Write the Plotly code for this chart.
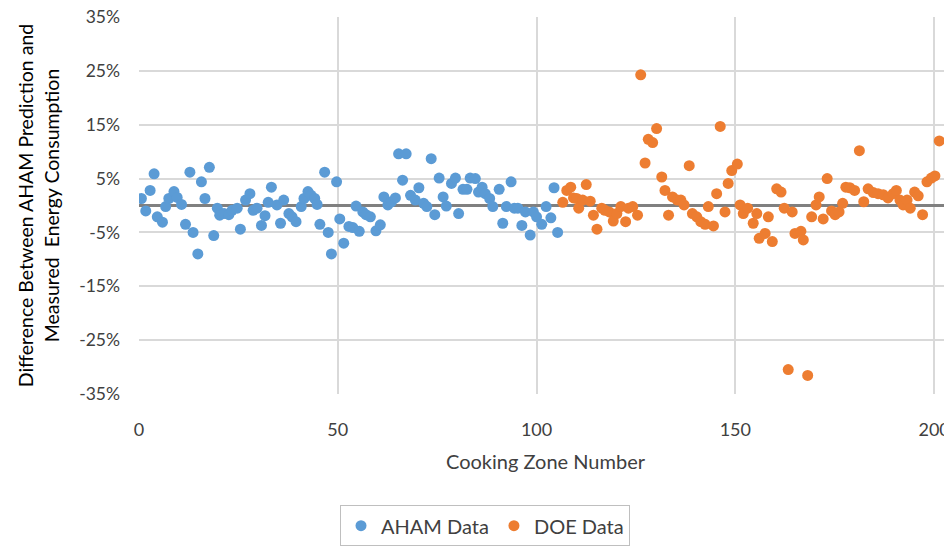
import plotly.graph_objects as go

# AHAM data: cooking zone number and % difference
aham_x = [0.6, 1.7, 2.8, 3.8, 4.6, 5.9, 6.7, 7.5, 8.8, 9.6, 10.7, 11.7, 12.8, 13.6, 14.8, 15.7, 16.6, 17.7, 18.8, 19.7,
          20.3, 21.4, 22.6, 23.4, 24.7, 25.5, 26.8, 27.9, 28.7, 29.7, 30.8, 31.7, 32.5, 33.3, 34.7, 35.6, 36.4, 37.7, 38.5, 39.5,
          40.8, 41.5, 42.5, 43.3, 44.2, 44.8, 45.5, 46.7, 47.6, 48.4, 49.7, 50.5, 51.5, 52.8, 53.8, 54.6, 55.4, 56.3, 57.1, 58.2,
          59.6, 60.7, 61.6, 62.6, 63.5, 64.5, 65.3, 66.3, 67.2, 68.3, 69.5, 70.4, 71.6, 72.4, 73.5, 74.4, 75.5, 76.5, 77.3, 78.6,
          79.6, 80.4, 81.5, 82.5, 83.3, 84.6, 85.4, 86.3, 87.1, 88.2, 89.0, 90.6, 91.5, 92.4, 93.6, 94.4, 95.3, 96.3, 97.2, 98.4,
          99.2, 100.0, 101.3, 102.4, 103.6, 104.4, 105.3]
aham_y = [1.3, -1.0, 2.8, 5.9, -2.1, -3.1, -0.2, 1.3, 2.6, 1.5, 0.2, -3.5, 6.2, -5.0, -9.0, 4.4, 1.3, 7.1, -5.6, -0.5,
          -1.8, -1.5, -1.7, -0.9, -0.5, -4.4, 1.0, 2.2, -0.9, -0.5, -3.7, -1.9, 0.6, 3.4, 0.1, -3.3, 1.0, -1.5, -2.1, -3.0,
          -0.2, 1.3, 2.6, 1.9, 1.3, 0.2, -3.5, 6.2, -5.0, -9.0, 4.4, -2.5, -7.0, -3.9, -4.1, -0.1, -4.8, -1.2, -1.7, -2.1,
          -4.7, -3.6, 1.6, 0.1, 0.7, 1.4, 9.6, 4.7, 9.6, 1.9, 1.0, 3.3, 0.4, -0.2, 8.7, -1.7, 5.1, 1.6, -0.1, 4.1,
          5.1, -1.5, 3.0, 3.0, 5.1, 5.0, 2.5, 3.4, 2.2, 1.3, -0.2, 3.0, -3.3, -0.2, 4.4, -0.5, -0.5, -3.7, -1.2, -5.5,
          -1.2, -2.1, -3.5, -0.2, -2.3, 3.3, -5.0]

# DOE data
doe_x = [106.6, 107.6, 108.6, 109.3, 110.1, 110.6, 111.6, 112.5, 113.5, 114.3, 115.2, 116.4, 117.2, 118.3, 119.3, 120.2,
         121.2, 122.4, 123.1, 124.2, 125.4, 126.2, 127.3, 128.1, 129.2, 130.2, 131.5, 132.3, 133.2, 134.2, 135.4, 136.3,
         137.1, 138.4, 139.2, 140.3, 141.3, 142.4, 143.2, 144.5, 145.3, 146.2, 147.4, 148.2, 149.1, 150.5, 151.2, 152.0,
         153.1, 154.5, 155.4, 156.0, 157.5, 158.3, 159.3, 160.4, 161.5, 162.3, 163.3, 164.3, 165.0, 166.5, 167.1, 168.2,
         169.2, 170.3, 171.1, 172.1, 173.1, 174.2, 175.1, 176.1, 177.0, 177.8, 178.8, 180.0, 181.2, 182.3, 183.4, 184.7,
         185.9, 187.2, 188.4, 189.7, 190.5, 191.4, 192.2, 193.2, 194.0, 195.1, 196.0, 197.1, 198.2, 199.3, 200.2, 201.3]
doe_y = [0.6, 2.8, 3.4, 1.4, 1.3, -0.5, 1.0, 3.9, 0.8, -1.8, -4.4, -0.5, -0.9, -1.2, -2.9, -1.5,
         -0.2, -3.0, -0.5, -0.2, -1.8, 24.3, 7.9, 12.3, 11.7, 14.3, 5.3, 2.8, -1.8, 1.6, 1.0, 1.0,
         0.1, 7.4, -1.5, -2.1, -3.0, -3.5, -0.2, -3.8, 2.2, 14.7, -1.2, 4.1, 6.5, 7.7, 0.1, -1.5,
         -0.5, -3.3, -1.5, -6.1, -5.2, -2.1, -6.7, 3.1, 2.5, -0.5, -30.5, -1.2, -5.2, -4.8, -6.4, -31.6,
         -2.1, 0.1, 1.6, -2.5, 5.0, -1.0, -1.7, -1.2, 0.4, 3.4, 3.3, 2.8, 10.2, 0.7, 3.1, 2.4,
         2.2, 2.0, 1.4, 2.2, 2.8, 1.0, 0.1, 1.0, -0.5, 2.5, 1.8, -1.7, 4.4, 5.1, 5.5, 12.0]

x_ticks = [0, 50, 100, 150, 200]
y_ticks = [-35, -25, -15, -5, 5, 15, 25, 35]
y_tick_labels = ["-35%", "-25%", "-15%", "-5%", "5%", "15%", "25%", "35%"]

FONT = "Lato"
fig = go.Figure()
fig.add_trace(go.Scatter(x=aham_x, y=aham_y, mode="markers", name="AHAM Data",
                         marker=dict(color="#5B9BD5", size=11)))
fig.add_trace(go.Scatter(x=doe_x, y=doe_y, mode="markers", name="DOE Data",
                         marker=dict(color="#ED7D31", size=11)))

fig.update_layout(
    width=952, height=546,
    margin=dict(l=131, r=8, t=9, b=157),
    paper_bgcolor="white", plot_bgcolor="white",
    font=dict(family=FONT, size=18, color="#404040"),
    showlegend=True,
    legend=dict(orientation="h", x=0.4256, xanchor="center", y=-0.295, yanchor="top",
                bordercolor="#bfbfbf", borderwidth=1, font=dict(size=20, color="#404040"),
                itemwidth=30),
    xaxis=dict(range=[0, 204.5], tickvals=x_ticks, showgrid=True, gridcolor="#d9d9d9", gridwidth=1.5,
               zeroline=False, showline=False, ticks="", ticklabelstandoff=23, automargin=False,
               ticklabeloverflow="allow",
               title=dict(text="Cooking Zone Number", font=dict(size=20, color="#404040"), standoff=15)),
    yaxis=dict(range=[-35.05, 35.05], tickvals=y_ticks, ticktext=y_tick_labels, showgrid=True, gridcolor="#d9d9d9",
               gridwidth=1.5, zeroline=True, zerolinecolor="#808080", zerolinewidth=3, showline=False, ticks="",
               ticklabelstandoff=18, automargin=False, ticklabeloverflow="allow",
               tickfont=dict(size=17.5),
               title=dict(text="Difference Between AHAM Prediction and<br>Measured  Energy Consumption",
                          font=dict(size=19.5, color="#000000"), standoff=14)),
)

fig.write_html("out.html")
